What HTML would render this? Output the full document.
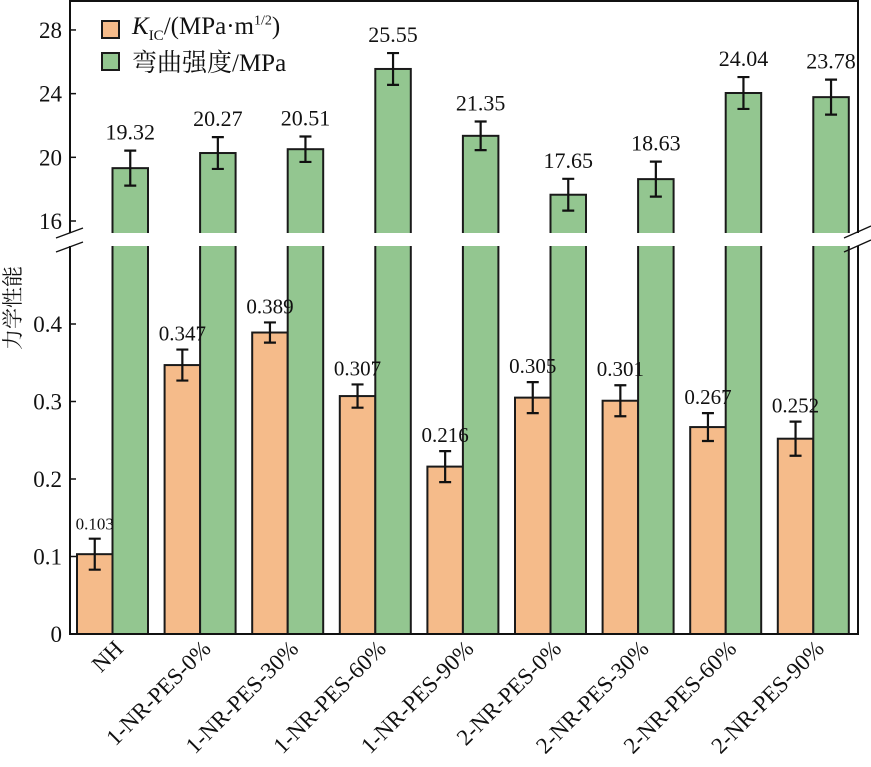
<!DOCTYPE html>
<html><head><meta charset="utf-8"><style>
body{margin:0;background:#fff}
svg text{font-family:"Liberation Serif","Noto Serif CJK SC",serif;fill:#111}
</style></head><body>
<svg id="chart" width="871" height="762" xmlns="http://www.w3.org/2000/svg"></svg>
<script>
const categories=["NH","1-NR-PES-0%","1-NR-PES-30%","1-NR-PES-60%","1-NR-PES-90%","2-NR-PES-0%","2-NR-PES-30%","2-NR-PES-60%","2-NR-PES-90%"];
const kicValues=[0.103,0.347,0.389,0.307,0.216,0.305,0.301,0.267,0.252];
const kicErrors=[0.02,0.02,0.013,0.015,0.02,0.02,0.02,0.018,0.022];
const flexValues=[19.32,20.27,20.51,25.55,21.35,17.65,18.63,24.04,23.78];
const flexErrors=[1.1,1.0,0.8,1.0,0.9,1.0,1.1,1.0,1.1];
const upperTicks=[16,20,24,28];
const lowerTicks=[0,0.1,0.2,0.3,0.4];
const lowerTickLabels=["0","0.1","0.2","0.3","0.4"];

const svg=document.getElementById('chart');
const NS='http://www.w3.org/2000/svg';
function mk(tag,attrs,parent){const e=document.createElementNS(NS,tag);for(const k in attrs)e.setAttribute(k,attrs[k]);(parent||svg).appendChild(e);return e;}
const X0=70,X1=858,Y0=634,YT=1,GAP0=233,GAP1=246;
const yLow=v=>634-v*775;
const yUp=v=>221-(v-16)*15.92;
const yFlex=v=>yUp(v);
const groupX=i=>77+i*87.6;
const BW=35.5;

categories.forEach((c,i)=>{
  const gx=groupX(i);
  let r=mk('rect',{x:gx,y:yLow(kicValues[i]),width:BW,height:Y0-yLow(kicValues[i]),fill:'#f5bb8a',stroke:'#1a1a1a','stroke-width':2});
  
  
  let g=mk('rect',{x:gx+BW,y:yFlex(flexValues[i]),width:BW,height:Y0-yFlex(flexValues[i]),fill:'#93c690',stroke:'#1a1a1a','stroke-width':2});
  
  
  const ex=gx+BW/2, e1=yLow(kicValues[i]+kicErrors[i]), e2=yLow(kicValues[i]-kicErrors[i]);
  let p=mk('path',{d:`M${ex},${e1}V${e2}M${ex-6},${e1}H${ex+6}M${ex-6},${e2}H${ex+6}`,stroke:'#111','stroke-width':2.2,fill:'none'});
  
  
  const fx=gx+BW*1.5, f1=yFlex(flexValues[i]+flexErrors[i]), f2=yFlex(flexValues[i]-flexErrors[i]);
  let q=mk('path',{d:`M${fx},${f1}V${f2}M${fx-6},${f1}H${fx+6}M${fx-6},${f2}H${fx+6}`,stroke:'#111','stroke-width':2.2,fill:'none'});
  
  
  let t=mk('text',{x:ex,y:e1-9,'text-anchor':'middle','font-size':i===0?17:21});
  t.textContent=kicValues[i].toFixed(3);
  
  
  let t2=mk('text',{x:fx,y:f1-11,'text-anchor':'middle','font-size':22});
  t2.textContent=flexValues[i].toFixed(2);
  
  
  const lx=gx+BW+12, ly=Y0+16;
  let xl=mk('text',{x:lx,y:ly,'text-anchor':'end','font-size':23,transform:`rotate(-45 ${lx} ${ly})`});
  xl.textContent=c;
  
  
});
let gap=mk('rect',{x:X0+1,y:GAP0,width:X1-X0-2,height:GAP1-GAP0,fill:'#fff'});


let fr=mk('path',{d:`M${X0},${GAP0}V${YT}H${X1}V${GAP0}M${X0},${GAP1}V${Y0}H${X1}V${GAP1}`,stroke:'#111','stroke-width':2,fill:'none'});


let br=mk('path',{d:`M56,238L83,228M56,252L83,242M844,238L871,226M844,252L871,240`,stroke:'#111','stroke-width':1.3});


upperTicks.forEach((v,i)=>{
  mk('line',{x1:X0,x2:X0+6,y1:yUp(v),y2:yUp(v),stroke:'#111','stroke-width':1.5});
  let t=mk('text',{x:X0-8,y:yUp(v)+8,'text-anchor':'end','font-size':23});
  t.textContent=v;
  
  
});
lowerTicks.forEach((v,i)=>{
  mk('line',{x1:X0,x2:X0+6,y1:yLow(v),y2:yLow(v),stroke:'#111','stroke-width':1.5});
  let t=mk('text',{x:X0-8,y:yLow(v)+8,'text-anchor':'end','font-size':23});
  t.textContent=lowerTickLabels[i];
  
  
});
let yt=mk('text',{x:20,y:308,'text-anchor':'middle','font-size':21,transform:'rotate(-90 20 308)'});
yt.textContent='力学性能';


</script>
<div style="position:absolute;left:101px;top:12px;font:25px 'Liberation Serif','Noto Serif CJK SC',serif;color:#111">
  <div style="height:34px;display:flex;align-items:center"><span style="display:inline-block;width:15px;height:15px;background:#f5bb8a;border:2px solid #1a1a1a;margin-right:12px"></span><span><i>K</i><sub style="font-size:15px">IC</sub>/(MPa·m<sup style="font-size:14px">1/2</sup>)</span></div>
  <div style="height:30px;display:flex;align-items:center"><span style="display:inline-block;width:15px;height:15px;background:#93c690;border:2px solid #1a1a1a;margin-right:12px"></span><span>弯曲强度/MPa</span></div>
</div>
</body></html>
